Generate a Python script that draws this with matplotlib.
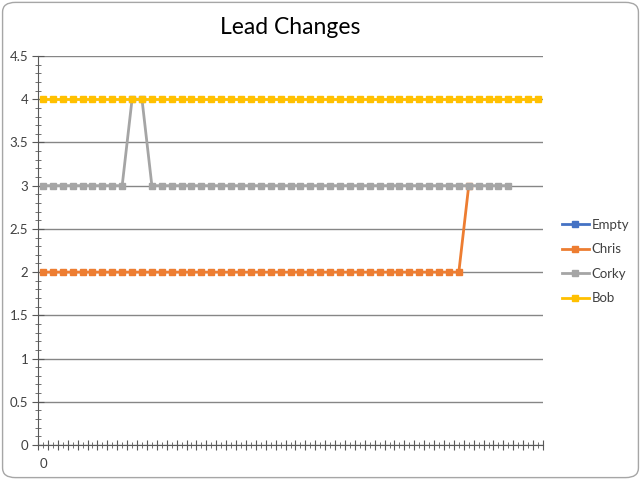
import matplotlib
matplotlib.use("Agg")
import matplotlib.pyplot as plt
import numpy as np
from matplotlib.patches import FancyBboxPatch

plt.rcParams['font.family'] = ['Lato', 'DejaVu Sans']

# data (one point per round)
rounds = np.arange(51)
empty = []
chris = [2] * 43 + [3]
corky = [3] * 9 + [4, 4] + [3] * 37
bob = [4] * 51

series = [("Empty", empty, "#4472C4"),
          ("Chris", chris, "#ED7D31"),
          ("Corky", corky, "#A5A5A5"),
          ("Bob", bob, "#FFC000")]

fig = plt.figure(figsize=(6.41, 4.8), dpi=100)
ax = fig.add_axes([38 / 641, 35 / 480, 505 / 641, 389 / 480])

for name, vals, col in series:
    ax.plot(rounds[:len(vals)], vals, color=col, lw=2, marker="s",
            markersize=5, label=name, zorder=3)

ax.set_xlim(-0.5, 50.5)
ax.set_ylim(0, 4.5)

# y axis: major every 0.5 with gridlines, minor every 0.1
ax.set_yticks(np.arange(0, 4.51, 0.5))
ax.set_yticklabels(["0", "0.5", "1", "1.5", "2", "2.5", "3", "3.5", "4", "4.5"])
ax.set_yticks(np.arange(0, 4.51, 0.1), minor=True)
ax.yaxis.grid(True, color="#868686", lw=1)
ax.set_axisbelow(True)

# x axis: ticks crossing at every half category, only "0" is labelled
xmaj = np.arange(-0.5, 50.6, 1)
ax.set_xticks(xmaj)
ax.set_xticklabels([""] * len(xmaj))
ax.set_xticks(rounds, minor=True)
ax.set_xticklabels(["0"] + [""] * (len(rounds) - 1), minor=True)

ax.tick_params(axis="both", which="both", direction="inout", color="#595959",
               labelsize=9.5, labelcolor="#404040")
ax.tick_params(axis="y", which="major", length=8, pad=3)
ax.tick_params(axis="y", which="minor", length=5)
ax.tick_params(axis="x", which="major", length=7)
ax.tick_params(axis="x", which="minor", length=5, pad=7)

for s in ["top", "right"]:
    ax.spines[s].set_visible(False)
for s in ["left", "bottom"]:
    ax.spines[s].set_color("#595959")

ax.set_title("Lead Changes", fontsize=16.5, color="#000000", pad=16)

fig.legend(loc="center left", bbox_to_anchor=(0.877, 0.455), frameon=False,
           borderpad=0, borderaxespad=0,
           fontsize=9.5, handlelength=2.0, labelspacing=0.95, handletextpad=0.25,
           labelcolor="#404040")

fig.patches.append(FancyBboxPatch((0.004, 0.005), 0.992, 0.99,
                                  boxstyle="round,pad=0,rounding_size=0.02",
                                  transform=fig.transFigure, fill=False,
                                  edgecolor="#A6A6A6", lw=1))

fig.savefig("out.png", dpi=100)
